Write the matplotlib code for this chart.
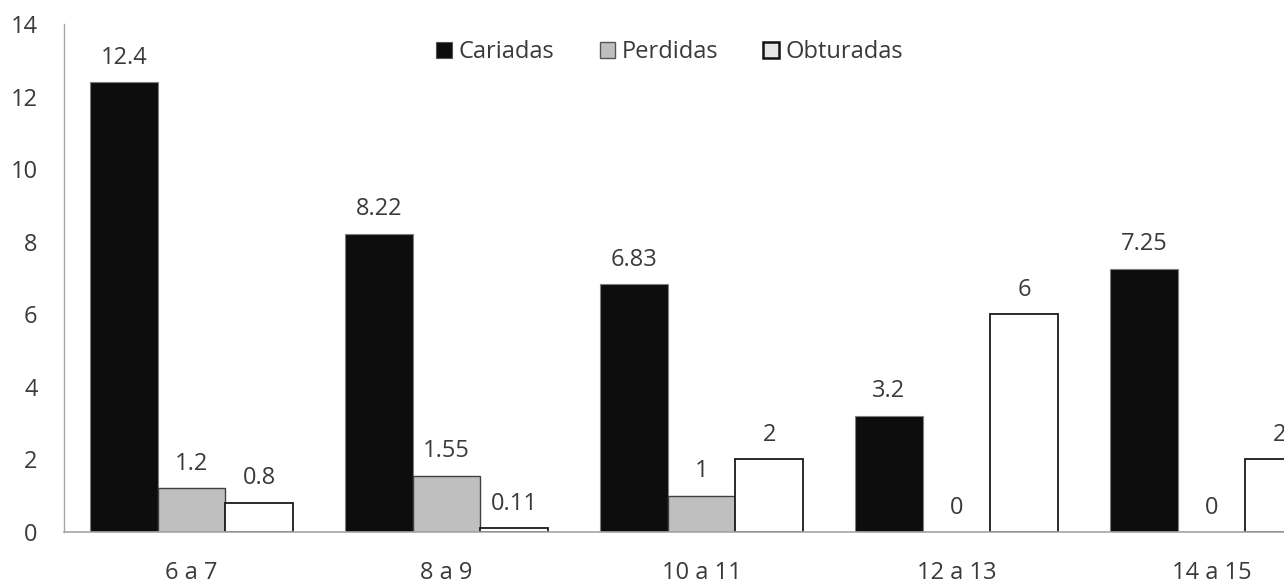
import matplotlib
matplotlib.use("Agg")
import matplotlib.pyplot as plt
import numpy as np
from matplotlib.patches import Patch

plt.rcParams['font.family'] = ['Open Sans', 'DejaVu Sans']

categories = ["6 a 7", "8 a 9", "10 a 11", "12 a 13", "14 a 15"]
cariadas = [12.4, 8.22, 6.83, 3.2, 7.25]
perdidas = [1.2, 1.55, 1, 0, 0]
obturadas = [0.8, 0.11, 2, 6, 2]
series_names = ["Cariadas", "Perdidas", "Obturadas"]
y_ticks = [0, 2, 4, 6, 8, 10, 12, 14]

text_color = "#3a3a3a"
fs = 17

fig = plt.figure(figsize=(12.84, 5.88), dpi=100)
ax = fig.add_axes([64 / 1284, 1 - 532 / 588, 1275 / 1284, (532 - 24) / 588])

x = np.arange(len(categories))
w = 0.2655
styles = [
    dict(color="#0d0d0d", edgecolor="#7f7f7f", linewidth=0.8),
    dict(color="#bfbfbf", edgecolor="#404040", linewidth=1.0),
    dict(color="#ffffff", edgecolor="#1a1a1a", linewidth=1.3),
]
for i, (vals, st) in enumerate(zip([cariadas, perdidas, obturadas], styles)):
    xs = x + (i - 1) * w
    ax.bar(xs, vals, width=w, zorder=2, **st)
    for xi, v in zip(xs, vals):
        ax.annotate(f"{v:g}", (xi, v), xytext=(0, 9), textcoords="offset points",
                    ha="center", va="bottom", fontsize=fs, color=text_color,
                    annotation_clip=False)

ax.set_xlim(-0.5, len(categories) - 0.5)
ax.set_ylim(0, 14)
ax.set_yticks(y_ticks)
ax.set_yticklabels([str(t) for t in y_ticks])
ax.set_xticks(x)
ax.set_xticklabels(categories)
ax.tick_params(axis="y", length=0, pad=19, labelsize=fs, labelcolor=text_color)
ax.tick_params(axis="x", length=0, pad=21, labelsize=fs, labelcolor=text_color)
for side in ["top", "right"]:
    ax.spines[side].set_visible(False)
ax.spines["left"].set_color("#a6a6a6")
ax.spines["bottom"].set_color("#a6a6a6")
ax.spines["left"].set_linewidth(1.0)
ax.spines["bottom"].set_linewidth(1.2)

handles = [
    Patch(facecolor="#0d0d0d", edgecolor="#555555", linewidth=0.8),
    Patch(facecolor="#bfbfbf", edgecolor="#555555", linewidth=1.0),
    Patch(facecolor="#e4e4e4", edgecolor="#111111", linewidth=1.8),
]
fig.legend(handles, series_names, loc="center", bbox_to_anchor=(670 / 1284, 1 - 52 / 588),
           ncol=3, frameon=False, fontsize=fs, handlelength=0.65, handleheight=0.65,
           handletextpad=0.3, columnspacing=1.9, labelcolor=text_color)

fig.savefig("out.png", dpi=100, facecolor="white")
